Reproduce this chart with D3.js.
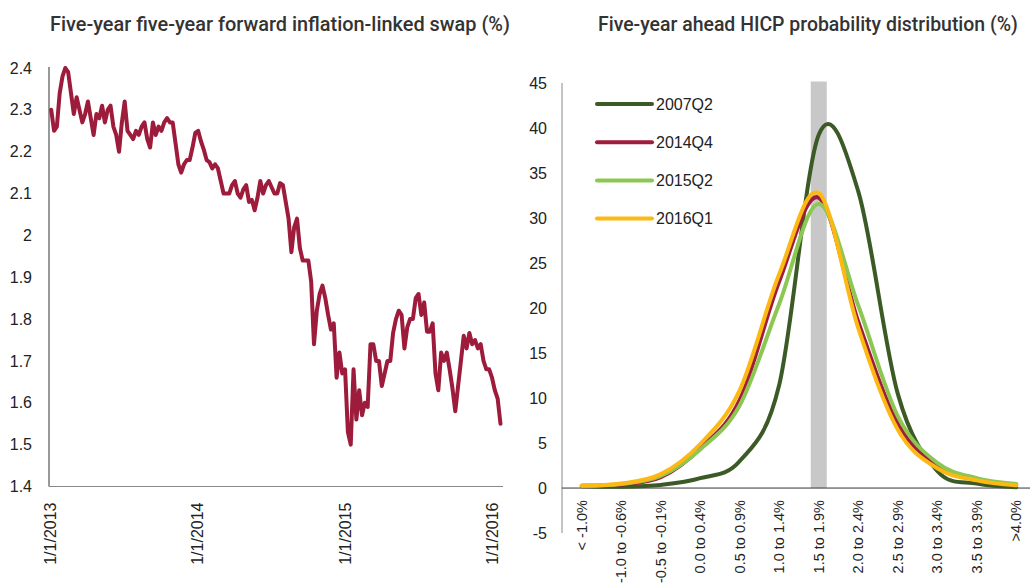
<!DOCTYPE html>
<html>
<head>
<meta charset="utf-8">
<script src="https://cdn.jsdelivr.net/npm/d3@7"></script>
<style>
  body { margin: 0; background: #fff; }
  svg { display: block; }
  .tick text { font-family: "Liberation Sans", Arial, sans-serif; fill: #222; }
  .title { font-family: Roboto, "Noto Sans", sans-serif; font-weight: 500; fill: #333; }
</style>
</head>
<body>
<div id="graph"></div>
<script>
// left panel: weekly readings of the 5y5y swap, starting first Friday of 2013
var swapStart = "2013-01-04"
var swapValues = [
  2.30, 2.25, 2.26, 2.34, 2.38, 2.40, 2.39, 2.34, 2.29, 2.33,
  2.30, 2.27, 2.29, 2.32, 2.28, 2.24, 2.29, 2.28, 2.31, 2.27,
  2.30, 2.31, 2.26, 2.24, 2.20, 2.27, 2.32, 2.25, 2.24, 2.23,
  2.25, 2.24, 2.26, 2.27, 2.23, 2.21, 2.27, 2.24, 2.26, 2.25,
  2.27, 2.28, 2.27, 2.27, 2.22, 2.17, 2.15, 2.17, 2.18, 2.18,
  2.21, 2.245, 2.25, 2.225, 2.205, 2.18, 2.175, 2.16, 2.17, 2.16,
  2.13, 2.10, 2.10, 2.10, 2.12, 2.13, 2.10, 2.09, 2.11, 2.12,
  2.08, 2.085, 2.06, 2.09, 2.13, 2.10, 2.12, 2.13, 2.115, 2.10,
  2.10, 2.125, 2.12, 2.08, 2.04, 1.96, 2.02, 2.04, 1.97, 1.94,
  1.94, 1.94, 1.89, 1.74, 1.82, 1.86, 1.88, 1.85, 1.81, 1.775,
  1.79, 1.66, 1.72, 1.67, 1.68, 1.53, 1.50, 1.68, 1.56, 1.63,
  1.57, 1.60, 1.59, 1.74, 1.74, 1.70, 1.70, 1.64, 1.67, 1.70,
  1.70, 1.767, 1.80, 1.82, 1.81, 1.73, 1.78, 1.80, 1.80, 1.85,
  1.86, 1.81, 1.84, 1.77, 1.77, 1.79, 1.67, 1.63, 1.72, 1.70,
  1.72, 1.68, 1.635, 1.58, 1.64, 1.70, 1.76, 1.73, 1.767, 1.74,
  1.75, 1.73, 1.74, 1.70, 1.68, 1.68, 1.66, 1.63, 1.61, 1.55
]
var swapTicks = ["2013-01-01", "2014-01-01", "2015-01-01", "2016-01-01"]
var swapYTicks = [1.4, 1.5, 1.6, 1.7, 1.8, 1.9, 2, 2.1, 2.2, 2.3, 2.4]

// right panel: HICP probability distribution
var categories = ["< -1.0%", "-1.0 to -0.6%", "-0.5 to -0.1%", "0.0 to 0.4%", "0.5 to 0.9%",
                  "1.0 to 1.4%", "1.5 to 1.9%", "2.0 to 2.4%", "2.5 to 2.9%", "3.0 to 3.4%",
                  "3.5 to 3.9%", ">4.0%"]
var seriesNames = ["2007Q2", "2014Q4", "2015Q2", "2016Q1"]
var s2007Q2 = [0.2, 0.15, 0.35, 1.1, 3.0, 11.5, 39.3, 33, 10.5, 1.9, 0.5, 0.1]
var s2014Q4 = [0.25, 0.4, 1.2, 4.4, 9.8, 23, 32.3, 18.5, 7.2, 2.5, 0.9, 0.4]
var s2015Q2 = [0.25, 0.45, 1.35, 4.3, 9.2, 20.5, 31.6, 20.3, 8.0, 2.8, 1.1, 0.45]
var s2016Q1 = [0.25, 0.5, 1.55, 4.9, 10.9, 23.8, 32.8, 17.8, 6.5, 2.2, 0.85, 0.3]
var highlightCategory = "1.5 to 1.9%"
var highlightValue = 45
var hicpYTicks = [-5, 0, 5, 10, 15, 20, 25, 30, 35, 40, 45]

var seriesColors = ["#3c5a25", "#a01c3c", "#8dc753", "#fdb913"]

var width = 1030, height = 583
var svg = d3.select("#graph").append("svg")
            .attr("width", width).attr("height", height)

// shrink a title until it fits the width it has in the original
var fitTitle = function(sel, maxWidth){
    var size = 21
    sel.style("font-size", size + "px")
    var w = sel.node().getComputedTextLength()
    if (w > maxWidth) sel.style("font-size", (size * maxWidth / w).toFixed(2) + "px")
}

// ---------- left chart ----------
var parse = d3.utcParse("%Y-%m-%d")
var start = parse(swapStart)
var swapData = swapValues.map(function(v, i){
    return {date: d3.utcDay.offset(start, 7 * i), value: v}
})

var xL = d3.scaleUtc()
           .domain([parse("2013-01-01"), parse("2016-01-01")])
           .range([50, 492])
var yL = d3.scaleLinear().domain([1.4, 2.4]).range([486.5, 68])

var left = svg.append("g").classed("left", true)

left.append("path")
    .datum(swapData)
    .attr("fill", "none")
    .attr("stroke", "#9d1c3b")
    .attr("stroke-width", 4)
    .attr("stroke-linejoin", "round")
    .attr("stroke-linecap", "round")
    .attr("d", d3.line().x(function(d){ return xL(d.date) }).y(function(d){ return yL(d.value) }))

var yAxisL = left.append("g")
    .attr("transform", "translate(49,0)")
    .call(d3.axisLeft(yL).tickValues(swapYTicks).tickSize(0).tickPadding(17)
            .tickFormat(function(d){ return String(+d.toFixed(1)) }))
yAxisL.select(".domain").attr("stroke", "#333").attr("d", "M0,67V486.5")
yAxisL.selectAll("text").style("font-size", "16px")

var xAxisL = left.append("g")
    .attr("transform", "translate(0,486.5)")
    .call(d3.axisBottom(xL).tickValues(swapTicks.map(parse)).tickSize(0)
            .tickFormat(d3.utcFormat("%-m/%-d/%Y")))
xAxisL.select(".domain").attr("stroke", "#888").attr("d", "M49,0H503")
xAxisL.selectAll("text")
      .style("font-size", "16px")
      .style("text-anchor", "end")
      .attr("transform", "rotate(-90)")
      .attr("x", -16).attr("y", 0).attr("dy", "0.35em")

left.append("text").classed("title", true)
    .attr("x", 50).attr("y", 31)
    .text("Five-year five-year forward inflation-linked swap (%)")
    .call(fitTitle, 460)

// ---------- right chart ----------
var xR = d3.scaleBand().domain(categories).range([562, 1036])
var yR = d3.scaleLinear().domain([-5, 45]).range([533, 83.5])

var right = svg.append("g").classed("right", true)

right.append("rect")
     .attr("x", xR(highlightCategory) + xR.bandwidth() / 2 - 8)
     .attr("width", 16)
     .attr("y", yR(highlightValue) - 2)
     .attr("height", yR(0) - yR(highlightValue) + 2)
     .attr("fill", "#c8c8c8")

var yAxisR = right.append("g")
    .attr("transform", "translate(562,0)")
    .call(d3.axisLeft(yR).tickValues(hicpYTicks).tickSize(0).tickPadding(15)
            .tickFormat(function(d){ return String(d) }))
yAxisR.select(".domain").attr("stroke", "#888").attr("d", "M0,83V533")
yAxisR.selectAll("text").style("font-size", "16px")

var xAxisR = right.append("g")
    .attr("transform", "translate(0," + yR(0) + ")")
    .call(d3.axisBottom(xR).tickSize(0))
xAxisR.select(".domain").attr("stroke", "#333").attr("d", "M562,0H1030")
xAxisR.selectAll("text")
      .style("font-size", "14.5px")
      .style("text-anchor", "end")
      .attr("transform", "rotate(-90)")
      .attr("x", -12).attr("y", 0).attr("dy", "0.35em")

var allSeries = [s2007Q2, s2014Q4, s2015Q2, s2016Q1]
var curve = d3.line()
              .x(function(d, i){ return xR(categories[i]) + xR.bandwidth() / 2 })
              .y(function(d){ return yR(d) })
              .curve(d3.curveCatmullRom.alpha(0))

right.selectAll(".series")
     .data(allSeries)
     .enter().append("path")
     .classed("series", true)
     .attr("fill", "none")
     .attr("stroke", function(d, i){ return seriesColors[i] })
     .attr("stroke-width", 4)
     .attr("stroke-linecap", "round")
     .attr("d", curve)

var legend = right.selectAll(".legend")
                  .data(seriesNames)
                  .enter().append("g")
                  .classed("legend", true)
                  .attr("transform", function(d, i){ return "translate(597," + (104 + i * 38.2) + ")" })
legend.append("line")
      .attr("x1", 0).attr("x2", 55)
      .attr("stroke", function(d, i){ return seriesColors[i] })
      .attr("stroke-width", 4)
      .attr("stroke-linecap", "round")
legend.append("text")
      .attr("x", 59).attr("dy", "0.36em")
      .style("font-family", "'Liberation Sans', Arial, sans-serif")
      .style("font-size", "16px")
      .attr("fill", "#222")
      .text(function(d){ return d })

right.append("text").classed("title", true)
     .attr("x", 598).attr("y", 31)
     .text("Five-year ahead HICP probability distribution (%)")
     .call(fitTitle, 420)
</script>
</body>
</html>
